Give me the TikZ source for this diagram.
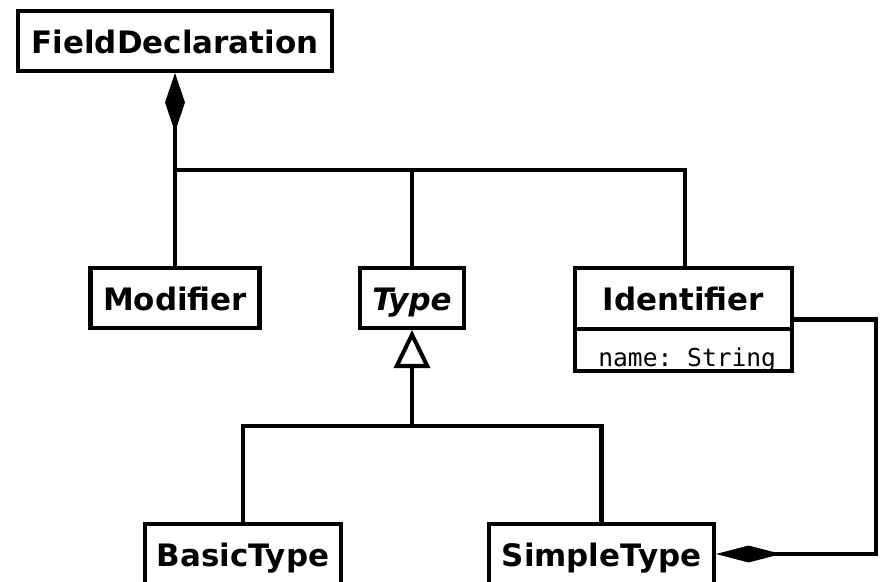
\documentclass[tikz,border=0pt]{standalone}
\usepackage{fontspec}
\setmainfont{DejaVu Sans}
\setmonofont{DejaVu Sans Mono}
\usetikzlibrary{arrows.meta}

\tikzset{
	classfont/.style={font=\fontsize{17.6}{21}\selectfont\bfseries, text height=14.2pt, text depth=0pt},
	umlclass/.style={draw, line width=2.3pt, inner sep=0pt, minimum height=1.2cm, classfont},
	assoc/.style={line width=2.3pt},
	compose/.style={assoc, {Diamond[length=1.18cm, width=0.4cm]}-},
	composeside/.style={assoc, {Diamond[length=1.3cm, width=0.34cm]}-},
	inherit/.style={assoc, {Triangle[open, length=0.76cm, width=0.72cm]}-}
}

\begin{document}
\begin{tikzpicture}[x=0.02cm, y=-0.02cm]
		\clip (0,0) rectangle (880,582);

		% classes
		\node[umlclass, minimum width=6.28cm] (fd) at (175,41) {FieldDeclaration};
		\node[umlclass, minimum width=3.38cm] (mod) at (175,298) {Modifier};
		\node[umlclass, minimum width=2.08cm] (type) at (412,298) {\itshape Type};
		\node[classfont, inner sep=0pt] (identName) at (683.5,298.5) {Identifier};
		\node[anchor=base west, inner sep=0pt, font=\fontsize{14}{17}\selectfont\ttfamily]
			(identAttr) at (598,366) {name: String};
		\node[umlclass, minimum width=4.34cm, minimum height=2.06cm] (ident) at (683.5,319.5) {};
		\draw[assoc] (ident.west |- 0,329) -- (ident.east |- 0,329);
		\node[umlclass, minimum width=3.92cm] (basic) at (243,554) {BasicType};
		\node[umlclass, minimum width=4.5cm] (simple) at (601.5,554) {SimpleType};

		% FieldDeclaration parts
		\coordinate (j1) at (175,170);
		\draw[compose] (fd.south) -- (mod.north);
		\draw[assoc] (j1) -| (type.north);
		\draw[assoc] (j1) -| (ident.north -| 685,0);

		% Type hierarchy
		\coordinate (j2) at (412,426);
		\draw[inherit] (type.south) -- (j2);
		\draw[assoc] (basic.north) |- (j2) -| (simple.north);

		% Identifier in SimpleType
		\coordinate (bend) at (876,319.5);
		\draw[composeside] (simple.east) -| (bend) -- (ident.east);
	\end{tikzpicture}
\end{document}
